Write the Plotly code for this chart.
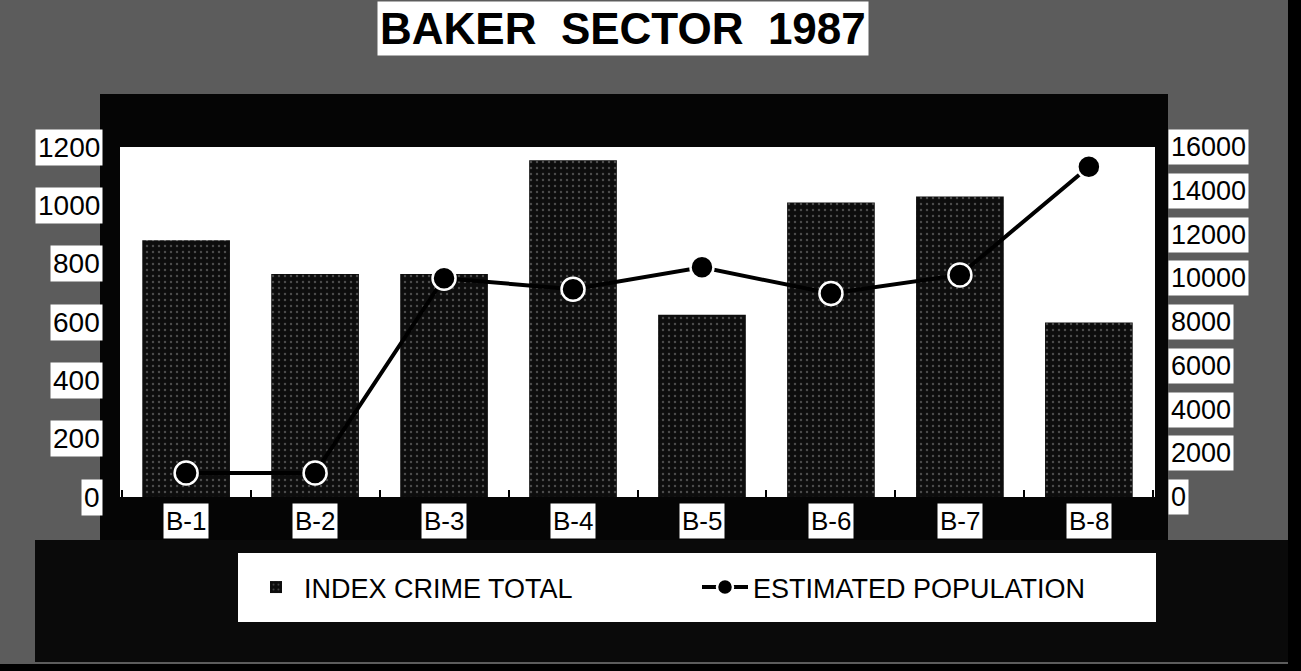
import plotly.graph_objects as go

categories = ["B-1", "B-2", "B-3", "B-4", "B-5", "B-6", "B-7", "B-8"]
crime_total = [880, 765, 765, 1155, 625, 1010, 1030, 598]
population = [1100, 1100, 10000, 9500, 10500, 9300, 10150, 15100]
left_ticks = [0, 200, 400, 600, 800, 1000, 1200]
right_ticks = [0, 2000, 4000, 6000, 8000, 10000, 12000, 14000, 16000]
title_words = ["BAKER", "SECTOR", "1987"]

# plot area in pixels
L, R, T, B = 120, 1155, 147, 497
W, H = R - L, B - T


def px(x):
    return (x - L) / W


def py(y):
    return (B - y) / H


FONT = "Liberation Sans, Arial, Helvetica, sans-serif"

fig = go.Figure()
fig.add_trace(go.Bar(
    x=categories, y=crime_total, name="INDEX CRIME TOTAL",
    marker=dict(color="#0d0d0d", line=dict(width=0),
                pattern=dict(shape=".", fgcolor="#8a8a8a", bgcolor="#0d0d0d", size=6, solidity=0.12)),
    yaxis="y",
))
fig.add_trace(go.Scatter(
    x=categories, y=population, name="ESTIMATED POPULATION", mode="lines+markers",
    line=dict(color="black", width=4),
    marker=dict(color="black", size=23, line=dict(color="white", width=2.5)),
    yaxis="y2",
))

shapes = [
    # black frame around plot
    dict(type="rect", xref="paper", yref="paper", x0=px(100), x1=px(1168), y0=py(552), y1=py(94),
         fillcolor="#050505", line=dict(width=0), layer="below"),
    # dark bottom band
    dict(type="rect", xref="paper", yref="paper", x0=px(35), x1=px(1290), y0=py(662), y1=py(540),
         fillcolor="#0a0a0a", line=dict(width=0), layer="below"),
    # white plot area (drawn over the frame)
    dict(type="rect", xref="paper", yref="paper", x0=0, x1=1, y0=0, y1=1,
         fillcolor="white", line=dict(width=0), layer="below"),
    # right edge strip
    dict(type="rect", xref="paper", yref="paper", x0=px(1288), x1=px(1301), y0=py(671), y1=py(0),
         fillcolor="#000000", line=dict(width=0), layer="below"),
    # bottom edge strip
    dict(type="rect", xref="paper", yref="paper", x0=px(0), x1=px(1301), y0=py(671), y1=py(664),
         fillcolor="#000000", line=dict(width=0), layer="below"),
]

annotations = [
    dict(text="<b>" + "\u00a0 ".join(title_words) + "</b>", xref="paper", yref="paper",
         x=px(623), y=py(29), xanchor="center", yanchor="middle", showarrow=False,
         bgcolor="white", borderpad=2, font=dict(family=FONT, size=44, color="black")),
]
for v in left_ticks:
    annotations.append(dict(text=str(v), xref="paper", yref="y", x=px(103), y=v,
                            xanchor="right", yanchor="middle", showarrow=False, bgcolor="white",
                            borderpad=2, font=dict(family=FONT, size=28, color="black")))
for v in right_ticks:
    annotations.append(dict(text=str(v), xref="paper", yref="y2", x=px(1168), y=v,
                            xanchor="left", yanchor="middle", showarrow=False, bgcolor="white",
                            borderpad=2, font=dict(family=FONT, size=27, color="black")))
for c in categories:
    annotations.append(dict(text=c, xref="x", yref="paper", x=c, y=py(521),
                            xanchor="center", yanchor="middle", showarrow=False, bgcolor="white",
                            borderpad=2, font=dict(family=FONT, size=26, color="black")))

fig.update_layout(
    width=1301, height=671,
    margin=dict(l=L, r=1301 - R, t=T, b=671 - B),
    paper_bgcolor="#5c5c5c", plot_bgcolor="white",
    bargap=0.32, showlegend=True,
    xaxis=dict(type="category", showticklabels=False, ticks="inside", tickson="boundaries",
               ticklen=7, tickwidth=2, tickcolor="black", showgrid=False, zeroline=False,
               showline=False),
    yaxis=dict(range=[0, 1200], tickvals=left_ticks, showticklabels=False, showgrid=False,
               zeroline=False, showline=False, ticks=""),
    yaxis2=dict(range=[0, 16000], tickvals=right_ticks, overlaying="y", side="right",
                showticklabels=False, showgrid=False, zeroline=False, showline=False, ticks=""),
    legend=dict(orientation="h", x=px(238), y=py(553), xanchor="left", yanchor="top",
                bgcolor="white", bordercolor="white", borderwidth=10,
                entrywidth=388, entrywidthmode="pixels", itemwidth=46,
                font=dict(family=FONT, size=27, color="black")),
    shapes=shapes, annotations=annotations,
)

fig.write_html("out.html", config={"displayModeBar": False},
               post_script="document.body.style.margin='0';")
